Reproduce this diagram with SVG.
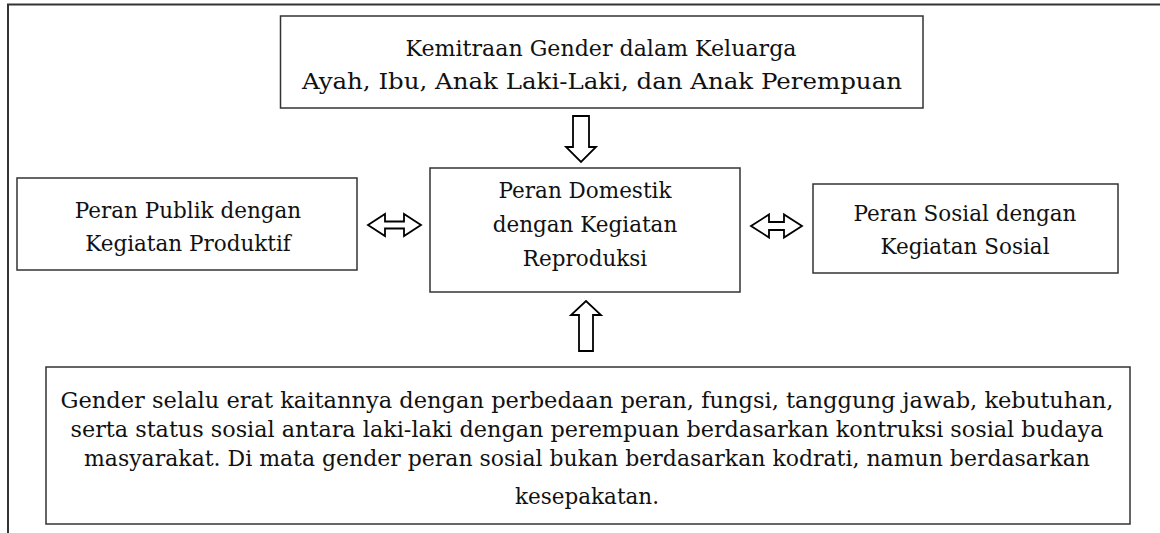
<svg xmlns="http://www.w3.org/2000/svg" width="1160" height="533" viewBox="0 0 1160 533">
<style>
.box{fill:#fff;stroke:#333;stroke-width:1.5}
.frame{fill:none;stroke:#333;stroke-width:2}
.arr{fill:#fff;stroke:#000;stroke-width:1.8;stroke-linejoin:miter}
text{font-family:"DejaVu Serif","Liberation Serif",serif;font-size:21.5px;fill:#111;text-anchor:middle}
</style>
<rect width="1160" height="533" fill="#fff"/>
<g id="frame"><path class="frame" d="M8,533 V4.5 H1160"/></g>
<g id="connectors">
<polygon class="arr" points="573,116 589,116 589,147 596,147 581,162 566,147 573,147"/>
<polygon class="arr" points="579,351 593,351 593,315 601,315 586,301 571,315 579,315"/>
<polygon class="arr" points="368,225 385,214 385,221.5 404,221.5 404,214 421,225 404,236 404,228.5 385,228.5 385,236"/>
<polygon class="arr" points="751,226 769,214.5 769,222 784,222 784,214.5 802,226 784,237.5 784,230 769,230 769,237.5"/>
</g>
<g id="top"><rect class="box" x="280.5" y="16" width="642.5" height="92"/>
<text x="601" y="56" textLength="391" lengthAdjust="spacingAndGlyphs">Kemitraan Gender dalam Keluarga</text>
<text x="602" y="89" textLength="600" lengthAdjust="spacingAndGlyphs">Ayah, Ibu, Anak Laki-Laki, dan Anak Perempuan</text></g>
<g id="left"><rect class="box" x="17" y="178" width="340" height="92"/>
<text x="188" y="218">Peran Publik dengan</text>
<text x="188" y="251">Kegiatan Produktif</text></g>
<g id="center"><rect class="box" x="430" y="168" width="310" height="124"/>
<text x="585" y="198">Peran Domestik</text>
<text x="585" y="232">dengan Kegiatan</text>
<text x="585" y="266">Reproduksi</text></g>
<g id="right"><rect class="box" x="813" y="184" width="305" height="89"/>
<text x="965" y="221">Peran Sosial dengan</text>
<text x="965" y="254">Kegiatan Sosial</text></g>
<g id="bottom"><rect class="box" x="46" y="367" width="1084" height="157"/>
<text x="587" y="408" textLength="1053" lengthAdjust="spacingAndGlyphs">Gender selalu erat kaitannya dengan perbedaan peran, fungsi, tanggung jawab, kebutuhan,</text>
<text x="587" y="437" textLength="1033" lengthAdjust="spacingAndGlyphs">serta status sosial antara laki-laki dengan perempuan berdasarkan kontruksi sosial budaya</text>
<text x="587" y="466" textLength="1006" lengthAdjust="spacingAndGlyphs">masyarakat. Di mata gender peran sosial bukan berdasarkan kodrati, namun berdasarkan</text>
<text x="587" y="504">kesepakatan.</text></g>
</svg>
